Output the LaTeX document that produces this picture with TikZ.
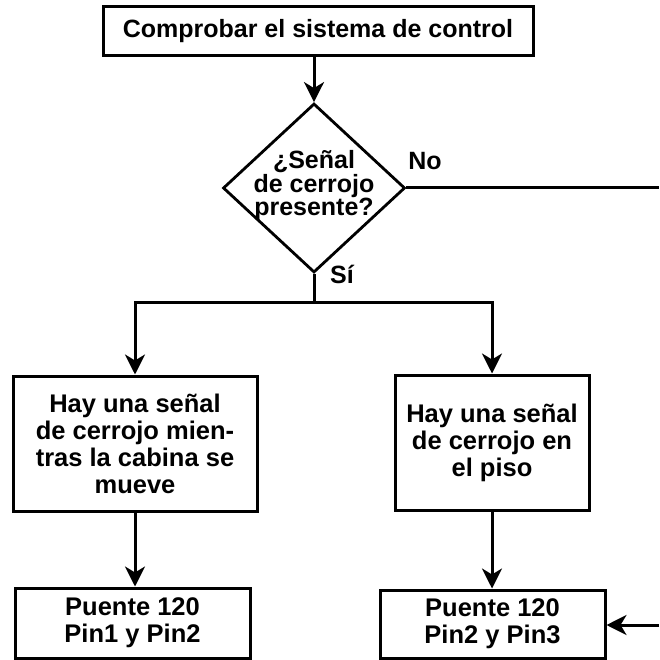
\documentclass[tikz,border=0pt]{standalone}
\usepackage{fontspec}
\setmainfont{Liberation Sans}
\usetikzlibrary{shapes.geometric}
\usetikzlibrary{arrows.meta}
\usetikzlibrary{positioning}
\tikzstyle{flow_text}=[inner sep=0pt, align=center, font=\bfseries\fontsize{25}{26}\selectfont]
\tikzstyle{flow_box}=[draw=black, line width=3pt, flow_text, font=\bfseries\fontsize{25.5}{27}\selectfont]
\tikzstyle{flow_decision}=[diamond, draw=black, line width=2.8pt, inner sep=0pt, minimum width=182pt, minimum height=169pt]
\tikzstyle{flow_line}=[draw=black, line width=3pt]
\tikzstyle{flow_arrow}=[flow_line, -{Stealth[length=20pt, width=20pt, inset=6pt]}]

\begin{document}
\begin{tikzpicture}[x=1pt, y=-1pt]
\useasboundingbox (0,0) rectangle (659,660);
\node[flow_box, font=\bfseries\fontsize{25}{26}\selectfont, minimum width=430pt, minimum height=49pt] (check) at (318,31){Comprobar el sistema de control};
\node[flow_decision] (sig) at (314,188){};
\node[flow_text, font=\bfseries\fontsize{25}{23.5}\selectfont] (sigtxt) at (314,186){¿Señal\\de cerrojo\\presente?};
\node[flow_text] (no) at (425,161){No};
\node[flow_text] (si) at (342,274){Sí};
\node[flow_box, minimum width=244pt, minimum height=135pt] (moving) at (135,443.5){Hay una señal\\de cerrojo mien-\\tras la cabina se\\mueve};
\node[flow_box, minimum width=194pt, minimum height=135pt] (floor) at (492,442.5){Hay una señal\\de cerrojo en\\el piso};
\node[flow_box, minimum width=235pt, minimum height=70pt] (pinA) at (132.5,623){Puente 120\\Pin1 y Pin2};
\node[flow_box, minimum width=225pt, minimum height=68pt] (pinB) at (492.5,624){Puente 120\\Pin2 y Pin3};
\coordinate (split) at (314,302);
\coordinate (noend) at (659,188);
\coordinate (inright) at (659,625);
\draw[flow_arrow](check.south -| sig.north) -- (sig.north);
\draw[flow_line](sig.east) -- (noend);
\draw[flow_line](sig.south) -- (split);
\draw[flow_arrow](split) -| (moving.north);
\draw[flow_arrow](split) -| (floor.north);
\draw[flow_arrow](moving.south) -- (moving.south |- pinA.north);
\draw[flow_arrow](floor.south) -- (floor.south |- pinB.north);
\draw[flow_arrow](inright) -- (inright -| pinB.east);
\end{tikzpicture}
\end{document}
